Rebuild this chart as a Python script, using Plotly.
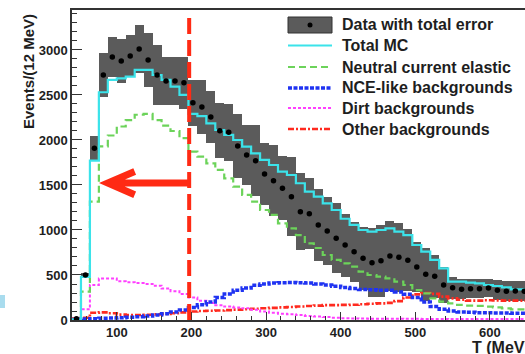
import plotly.graph_objects as go

# ---- data (12 MeV bins from 40 MeV) ----
bin_width = 12
bin_low_edges = list(range(40, 652, 12))          # 51 bins: 40..640
bin_centers = [e + bin_width / 2 for e in bin_low_edges]

data_events = [15, 500, 1907, 2722, 2922, 2878, 2933, 3011, 2889, 2722,
               2656, 2656, 2635, 2413, 2365, 2254, 2102, 2085, 1933, 1833,
               1768, 1622, 1548, 1463, 1370, 1204, 1180, 1055, 989, 907,
               833, 759, 685, 637, 657, 711, 696, 665, 590, 509,
               485, 389, 358, 342, 348, 348, 355, 330, 320, 322, 320]
data_error = [10, 25, 140, 240, 220, 240, 235, 265, 295, 330,
              270, 270, 290, 255, 300, 285, 305, 315, 360, 335,
              395, 340, 395, 355, 440, 425, 395, 405, 380, 390,
              350, 335, 350, 380, 400, 390, 380, 345, 280, 295,
              235, 205, 125, 110, 105, 105, 100, 110, 110, 110, 110]
total_mc = [8, 480, 1770, 2530, 2667, 2685, 2704, 2778, 2778, 2722,
            2667, 2593, 2500, 2290, 2265, 2185, 2111, 2056, 2000, 1926,
            1852, 1778, 1722, 1648, 1611, 1519, 1426, 1370, 1296, 1222,
            1125, 1056, 1000, 981, 1000, 1019, 981, 944, 833, 759,
            667, 574, 426, 426, 415, 407, 389, 378, 363, 341, 341]
nce = [0, 315, 1315, 1930, 2050, 2150, 2220, 2280, 2290, 2220,
       2160, 2100, 2020, 1870, 1815, 1741, 1667, 1574, 1481, 1389,
       1315, 1222, 1167, 1074, 1019, 944, 852, 800, 722, 667,
       630, 593, 537, 500, 481, 463, 426, 389, 333, 296,
       241, 204, 185, 167, 160, 156, 148, 141, 130, 119, 119]
nce_like = [5, 10, 15, 20, 22, 25, 30, 35, 45, 55,
            70, 90, 110, 140, 170, 200, 250, 290, 330, 355,
            385, 400, 410, 415, 418, 415, 410, 400, 390, 375,
            360, 350, 340, 335, 330, 330, 310, 285, 250, 200,
            150, 120, 100, 90, 85, 80, 80, 78, 78, 75, 75]
dirt = [5, 120, 390, 460, 460, 430, 420, 410, 400, 380,
        350, 320, 290, 250, 215, 190, 165, 150, 140, 130,
        115, 95, 80, 70, 65, 55, 45, 38, 32, 25,
        20, 18, 16, 15, 15, 14, 14, 13, 13, 12,
        12, 12, 11, 11, 11, 10, 10, 10, 10, 10, 10]
other = [15, 25, 80, 85, 75, 60, 55, 55, 58, 62,
         68, 75, 85, 95, 100, 102, 105, 110, 115, 120,
         125, 130, 135, 140, 145, 150, 155, 160, 165, 165,
         168, 170, 175, 180, 185, 190, 210, 250, 285, 300,
         290, 260, 240, 225, 215, 215, 220, 218, 215, 215, 215]

x_ticks = [100, 200, 300, 400, 500, 600]
cut_T = 197

legend_labels = ["Data with total error", "Total MC", "Neutral current elastic",
                 "NCE-like backgrounds", "Dirt backgrounds", "Other backgrounds"]

# ---- styles ----
C_BAND = "#5b5b5b"
C_MC = "#3be3ea"
C_NCE = "#6cd35a"
C_NCEL = "#1f33f2"
C_DIRT = "#ff40ff"
C_OTHER = "#ff2a1f"
C_CUT = "#ff2a14"
TXT = "#1e1e1e"
FONT = "Liberation Sans, Arial, sans-serif"

styles = {
    "mc": dict(color=C_MC, width=2.2),
    "nce": dict(color=C_NCE, width=2.2, dash="7px,4px"),
    "ncel": dict(color=C_NCEL, width=3.5, dash="4px,1.5px"),
    "dirt": dict(color=C_DIRT, width=2.0, dash="3px,2px"),
    "other": dict(color=C_OTHER, width=2.6, dash="6px,2px,2px,2px"),
}

step_x = bin_low_edges + [bin_low_edges[-1] + bin_width]


def step_y(vals):
    return list(vals) + [vals[-1]]


fig = go.Figure()

# error band
fig.add_trace(go.Bar(
    x=bin_centers,
    y=[2 * e for e in data_error],
    base=[d - e for d, e in zip(data_events, data_error)],
    width=bin_width,
    marker=dict(color=C_BAND, line=dict(width=0)),
    showlegend=False, hoverinfo="skip"))

for key, vals in [("other", other), ("dirt", dirt), ("ncel", nce_like),
                  ("nce", nce), ("mc", total_mc)]:
    fig.add_trace(go.Scatter(x=step_x, y=step_y(vals), mode="lines",
                             line=dict(shape="hv", **styles[key]),
                             showlegend=False))

fig.add_trace(go.Scatter(x=bin_centers, y=data_events, mode="markers",
                         marker=dict(color="black", size=5.5),
                         showlegend=False))

# ---- layout geometry helpers (pixel -> paper) ----
L, R_EDGE, TOP, BOT = 72, 525, 10, 320
W, H = R_EDGE - L, BOT - TOP


def px_x(px):
    return (px - L) / W


def px_y(py):
    return (BOT - py) / H


shapes = []
annotations = []

# cut line
shapes.append(dict(type="line", xref="x", yref="paper", x0=cut_T, x1=cut_T,
                   y0=0, y1=px_y(14), line=dict(color=C_CUT, width=4, dash="16px,6px"),
                   layer="above"))
# arrow
arrow_y = 1522
shapes.append(dict(type="path", xref="x", yref="y",
                   path=f"M 124,1650 L 88,{arrow_y} L 124,1392 M 88,{arrow_y} L {cut_T},{arrow_y}",
                   line=dict(color=C_CUT, width=7), layer="above"))

# legend
lx0, lx1, ltx = 288, 332, 340
rows = [25, 45.5, 67, 88, 108, 129]
shapes.append(dict(type="rect", xref="paper", yref="paper",
                   x0=px_x(lx0), x1=px_x(lx1), y0=px_y(33), y1=px_y(17),
                   fillcolor=C_BAND, line=dict(color="#333", width=1), layer="above"))
shapes.append(dict(type="circle", xref="paper", yref="paper",
                   x0=px_x(307.5), x1=px_x(312.5), y0=px_y(27.5), y1=px_y(22.5),
                   fillcolor="black", line=dict(width=0), layer="above"))
for key, ry in zip(["mc", "nce", "ncel", "dirt", "other"], rows[1:]):
    shapes.append(dict(type="line", xref="paper", yref="paper",
                       x0=px_x(lx0), x1=px_x(lx1), y0=px_y(ry), y1=px_y(ry),
                       line=styles[key], layer="above"))
for lab, ry in zip(legend_labels, rows):
    annotations.append(dict(text=lab, xref="paper", yref="paper", x=px_x(ltx), y=px_y(ry),
                            xanchor="left", yanchor="middle", showarrow=False,
                            font=dict(family=FONT, size=16, color=TXT, weight="bold")))

# axis titles
annotations.append(dict(text="Events/(12 MeV)", xref="paper", yref="paper",
                        x=px_x(29), y=px_y(72), textangle=-90, showarrow=False,
                        xanchor="center", yanchor="middle",
                        font=dict(family=FONT, size=15, color=TXT, weight="bold")))
annotations.append(dict(text="T (MeV)", xref="paper", yref="paper",
                        x=px_x(470), y=px_y(347), xanchor="left", yanchor="middle",
                        showarrow=False,
                        font=dict(family=FONT, size=16, color=TXT, weight="bold")))

# light blue patch at left edge
shapes.append(dict(type="rect", xref="paper", yref="paper",
                   x0=px_x(0), x1=px_x(5), y0=px_y(308), y1=px_y(295),
                   fillcolor="#a9dcee", line=dict(width=0)))

tickfont = dict(family=FONT, size=13, color=TXT, weight="bold")

fig.update_layout(
    width=525, height=354,
    margin=dict(l=L, r=0, t=TOP, b=354 - BOT, pad=0, autoexpand=False),
    plot_bgcolor="white", paper_bgcolor="white",
    showlegend=False, barmode="overlay", bargap=0,
    shapes=shapes, annotations=annotations,
    xaxis=dict(range=[40, 647], tickvals=x_ticks, ticks="inside", ticklen=8,
               tickwidth=1.3, tickcolor="#333", showline=True, linecolor="#333",
               linewidth=1.5, mirror=True, showgrid=False, zeroline=False,
               tickfont=tickfont, automargin=False,
               minor=dict(ticks="inside", dtick=20, tick0=0, ticklen=4,
                          tickcolor="#333", tickwidth=1, showgrid=False)),
    yaxis=dict(range=[0, 3444], dtick=500, tick0=0, ticks="inside", ticklen=10,
               tickwidth=1.3, tickcolor="#333", showline=True, linecolor="#333",
               linewidth=1.5, mirror=False, showgrid=False, zeroline=False,
               tickfont=tickfont, automargin=False,
               minor=dict(ticks="inside", dtick=100, tick0=0, ticklen=5,
                          tickcolor="#333", tickwidth=1, showgrid=False)),
)

# remove the browser's default 8px page margin so the figure fills the window
fig.write_html("out.html",
               config={"displayModeBar": False},
               post_script="document.body.style.margin='0';document.body.style.overflow='hidden';")
